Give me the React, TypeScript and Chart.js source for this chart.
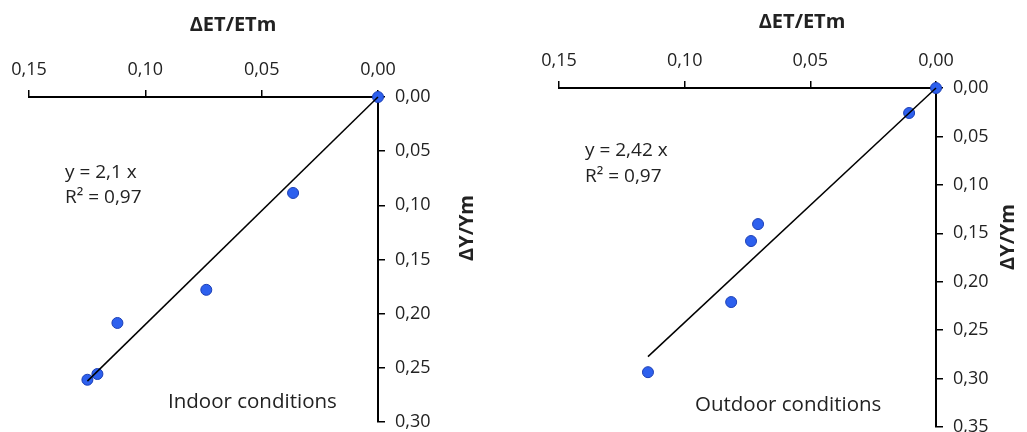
import React, { useEffect, useRef } from 'react';
import { Chart, registerables } from 'chart.js';

Chart.register(...registerables);

// ---- data ----
const xTickLabels = ['0,00', '0,05', '0,10', '0,15'];
const indoorYTickLabels = ['0,00', '0,05', '0,10', '0,15', '0,20', '0,25', '0,30'];
const outdoorYTickLabels = ['0,00', '0,05', '0,10', '0,15', '0,20', '0,25', '0,30', '0,35'];

const indoorDeltaET = [0.0, 0.0365, 0.0738, 0.112, 0.1206, 0.1249];
const indoorDeltaY = [0.0, 0.0886, 0.178, 0.2086, 0.2557, 0.261];
const indoorTrendX = [0.0, 0.1249];
const indoorTrendY = [0.0, 0.2623];

const outdoorDeltaET = [0.0, 0.0107, 0.0708, 0.0736, 0.0815, 0.1146];
const outdoorDeltaY = [0.0, 0.0258, 0.1405, 0.158, 0.221, 0.2934];
const outdoorTrendX = [0.0, 0.1146];
const outdoorTrendY = [0.0, 0.2773];

const indoorTexts = ['y = 2,1 x', 'R² = 0,97', 'Indoor conditions'];
const outdoorTexts = ['y = 2,42 x', 'R² = 0,97', 'Outdoor conditions'];
const xTitle = 'ΔET/ETm';
const yTitle = 'ΔY/Ym';

const FONT = '"Open Sans", "DejaVu Sans", sans-serif';
const TEXT_COLOR = '#222222';

type TextItem = { text: string; x: number; y: number; align: CanvasTextAlign; size: number; bold?: boolean; rotate?: boolean };

const textPlugin = {
  id: 'freeTexts',
  afterDraw(chart: any, _args: any, opts: any) {
    const ctx = chart.ctx as CanvasRenderingContext2D;
    const items: TextItem[] = opts.items || [];
    ctx.save();
    ctx.fillStyle = TEXT_COLOR;
    ctx.textBaseline = 'middle';
    for (const it of items) {
      ctx.font = `${it.bold ? 'bold ' : ''}${it.size}px ${FONT}`;
      ctx.textAlign = it.align;
      if (it.rotate) {
        ctx.save();
        ctx.translate(it.x, it.y);
        ctx.rotate(-Math.PI / 2);
        ctx.fillText(it.text, 0, 0);
        ctx.restore();
      } else {
        ctx.fillText(it.text, it.x, it.y);
      }
    }
    ctx.restore();
  },
};

type PanelProps = {
  left: number;
  width: number;
  xs: number[];
  ys: number[];
  tx: number[];
  ty: number[];
  yMax: number;
  yLabels: string[];
  padding: { left: number; right: number; top: number; bottom: number };
  texts: TextItem[];
};

function Panel(p: PanelProps) {
  const ref = useRef<HTMLCanvasElement | null>(null);
  useEffect(() => {
    if (!ref.current) return;
    const points = p.xs.map((x, i) => ({ x, y: p.ys[i] }));
    const trend = p.tx.map((x, i) => ({ x, y: p.ty[i] }));
    const tickFont = { family: FONT, size: 18 };
    const chart = new Chart(ref.current, {
      type: 'scatter',
      data: {
        datasets: [
          {
            data: trend,
            showLine: true,
            borderColor: '#000000',
            borderWidth: 1.5,
            pointRadius: 0,
            fill: false,
            clip: false as any,
          },
          {
            data: points,
            pointRadius: 5.5,
            pointBackgroundColor: '#2d60ee',
            pointBorderColor: '#1c3fb5',
            pointBorderWidth: 1,
            clip: false as any,
          },
        ],
      },
      options: {
        responsive: false,
        animation: false,
        events: [],
        layout: { padding: p.padding },
        plugins: {
          legend: { display: false },
          tooltip: { enabled: false },
          freeTexts: { items: p.texts },
        } as any,
        scales: {
          x: {
            type: 'linear',
            position: 'top',
            reverse: true,
            min: 0,
            max: 0.15,
            afterFit: (s: any) => {
              s.height = 60;
            },
            border: { display: true, color: '#000000', width: 2 },
            grid: { drawOnChartArea: false, drawTicks: true, tickLength: 7, color: '#000000', lineWidth: 1.5 },
            ticks: {
              stepSize: 0.05,
              color: TEXT_COLOR,
              font: tickFont,
              padding: 9,
              maxRotation: 0,
              callback: (v: any) => xTickLabels[Math.round(Number(v) / 0.05)] ?? '',
            },
          },
          y: {
            type: 'linear',
            position: 'right',
            reverse: true,
            min: 0,
            max: p.yMax,
            afterFit: (s: any) => {
              s.width = 60;
            },
            border: { display: true, color: '#000000', width: 2 },
            grid: { drawOnChartArea: false, drawTicks: true, tickLength: 7, color: '#000000', lineWidth: 1.5 },
            ticks: {
              stepSize: 0.05,
              color: TEXT_COLOR,
              font: tickFont,
              padding: 10,
              callback: (v: any) => p.yLabels[Math.round(Number(v) / 0.05)] ?? '',
            },
          },
        },
      },
      plugins: [textPlugin],
    } as any);
    return () => chart.destroy();
  }, []);
  return (
    <canvas
      ref={ref}
      width={p.width}
      height={470}
      style={{ position: 'absolute', left: p.left, top: 0, width: p.width, height: 470 }}
    />
  );
}

export default function App() {
  return (
    <div
      style={{
        position: 'fixed',
        left: 0,
        top: 0,
        width: 1027,
        height: 432,
        overflow: 'hidden',
        background: '#ffffff',
      }}
    >
      <Panel
        left={0}
        width={520}
        xs={indoorDeltaET}
        ys={indoorDeltaY}
        tx={indoorTrendX}
        ty={indoorTrendY}
        yMax={0.3}
        yLabels={indoorYTickLabels}
        padding={{ left: 29, right: 520 - 378 - 60, top: 97 - 60, bottom: 470 - 422 }}
        texts={[
          { text: indoorTexts[0], x: 65, y: 173, align: 'left', size: 19 },
          { text: indoorTexts[1], x: 65, y: 198, align: 'left', size: 19 },
          { text: indoorTexts[2], x: 168, y: 402, align: 'left', size: 20.5 },
          { text: xTitle, x: 233, y: 25, align: 'center', size: 20, bold: true },
          { text: yTitle, x: 467, y: 228, align: 'center', size: 20, bold: true, rotate: true },
        ]}
      />
      <Panel
        left={520}
        width={507}
        xs={outdoorDeltaET}
        ys={outdoorDeltaY}
        tx={outdoorTrendX}
        ty={outdoorTrendY}
        yMax={0.35}
        yLabels={outdoorYTickLabels}
        padding={{ left: 39, right: 507 - 416 - 60, top: 88 - 60, bottom: 470 - 427 }}
        texts={[
          { text: outdoorTexts[0], x: 65, y: 151, align: 'left', size: 19 },
          { text: outdoorTexts[1], x: 65, y: 177, align: 'left', size: 19 },
          { text: outdoorTexts[2], x: 175, y: 405, align: 'left', size: 20.5 },
          { text: xTitle, x: 282, y: 22, align: 'center', size: 20, bold: true },
          { text: yTitle, x: 488, y: 237, align: 'center', size: 20, bold: true, rotate: true },
        ]}
      />
    </div>
  );
}
